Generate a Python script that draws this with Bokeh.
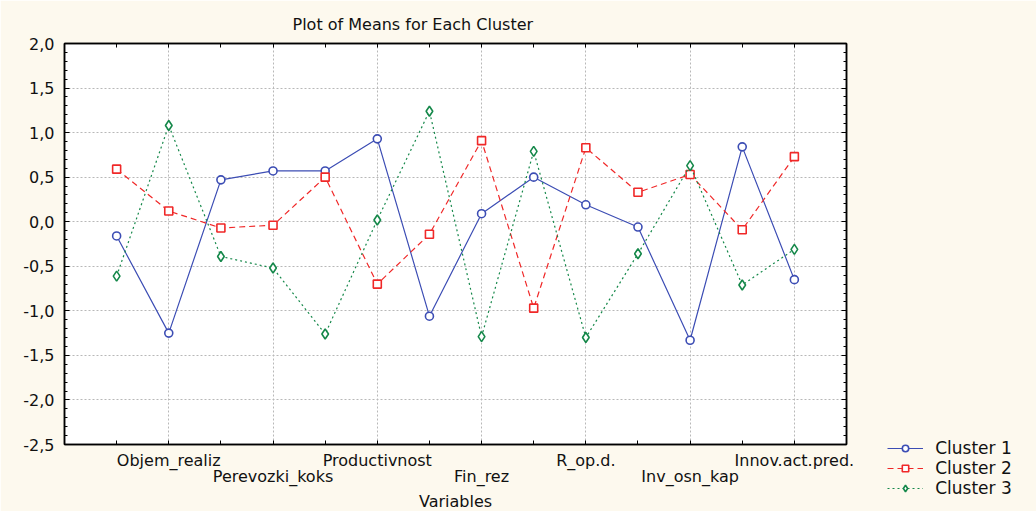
from bokeh.plotting import figure
from bokeh.models import (FixedTicker, LinearAxis, Range1d, Legend, LegendItem,
                          CustomJSTickFormatter)
from bokeh.embed import file_html
from bokeh.resources import INLINE

# ---- data ----
positions = list(range(1, 15))
cluster1 = [-0.16, -1.25, 0.47, 0.57, 0.57, 0.93, -1.06, 0.09, 0.50, 0.19, -0.06, -1.33, 0.84, -0.65]
cluster2 = [0.59, 0.12, -0.07, -0.04, 0.50, -0.70, -0.14, 0.91, -0.97, 0.83, 0.33, 0.53, -0.09, 0.73]
cluster3 = [-0.61, 1.08, -0.39, -0.52, -1.26, 0.02, 1.24, -1.29, 0.79, -1.30, -0.36, 0.63, -0.71, -0.31]
series_names = ["Cluster 1", "Cluster 2", "Cluster 3"]
label_positions = [2, 4, 6, 8, 10, 12, 14]
variable_labels = ["Objem_realiz", "Perevozki_koks", "Productivnost", "Fin_rez",
                   "R_op.d.", "Inv_osn_kap", "Innov.act.pred."]
y_ticks = [-2.5, -2.0, -1.5, -1.0, -0.5, 0.0, 0.5, 1.0, 1.5, 2.0]

FONT = "DejaVu Sans"
FS = "16px"
CREAM = "#fdf9ee"
TXT = "#111111"

p = figure(frame_width=782, height=513, output_backend="svg", toolbar_location=None,
           x_range=Range1d(0, 15), y_range=Range1d(-2.5, 2.0),
           min_border_left=64, min_border_right=190, min_border_top=43, min_border_bottom=20,
           background_fill_color="white", border_fill_color=CREAM,
           outline_line_color="black", outline_line_width=1.5)

p.title.text = "Plot of Means for Each Cluster"
p.title.align = "left"
p.title.offset = 228
p.title.text_font = FONT
p.title.text_font_size = FS
p.title.text_font_style = "normal"
p.title.text_color = TXT
p.title.standoff = 20

x_minor = [x for x in positions if x not in label_positions]
upper_pos = label_positions[0::2]
upper_lab = variable_labels[0::2]
lower_pos = label_positions[1::2]
lower_lab = variable_labels[1::2]

y_minor = [round(-2.5 + 0.1 * i, 1) for i in range(46)]
y_minor = [v for v in y_minor if v not in y_ticks]

# bottom axis (upper row of labels)
xa = p.xaxis[0]
xa.ticker = FixedTicker(ticks=upper_pos, minor_ticks=x_minor + lower_pos)
xa.major_label_overrides = dict(zip(upper_pos, upper_lab))

# second bottom axis (lower row of labels + axis title)
xb = LinearAxis(ticker=FixedTicker(ticks=lower_pos, minor_ticks=[]),
                major_label_overrides=dict(zip(lower_pos, lower_lab)))
xb.axis_line_alpha = 0
xb.major_tick_in = 0
xb.major_tick_out = 0
xb.minor_tick_in = 0
xb.minor_tick_out = 0
xb.major_label_standoff = -6
xb.axis_label = "Variables"
xb.axis_label_standoff = 3
p.add_layout(xb, "below")

# left axis
ya = p.yaxis[0]
ya.ticker = FixedTicker(ticks=y_ticks, minor_ticks=y_minor)
ya.formatter = CustomJSTickFormatter(code="return tick.toFixed(1).replace('.', ',');")

for ax in (xa, xb, ya):
    ax.major_label_text_font = FONT
    ax.major_label_text_font_size = FS
    ax.major_label_text_color = TXT
    ax.axis_label_text_font = FONT
    ax.axis_label_text_font_size = FS
    ax.axis_label_text_font_style = "normal"
    ax.axis_label_text_color = TXT
for ax in (xa, ya):
    ax.axis_line_color = "black"
    ax.axis_line_width = 1.5
    ax.major_tick_in = 5
    ax.major_tick_out = 0
    ax.minor_tick_in = 3
    ax.minor_tick_out = 0
    ax.major_tick_line_color = "black"
    ax.minor_tick_line_color = "black"
xa.minor_tick_in = 4
xa.major_tick_in = 4
xa.major_label_standoff = 6
ya.major_label_standoff = 10

# right and top axes (ticks only)
ra = LinearAxis(ticker=FixedTicker(ticks=y_ticks, minor_ticks=y_minor),
                formatter=CustomJSTickFormatter(code="return '';"))
ta = LinearAxis(ticker=FixedTicker(ticks=label_positions, minor_ticks=x_minor),
                formatter=CustomJSTickFormatter(code="return '';"))
for ax in (ra, ta):
    ax.axis_line_color = "black"
    ax.axis_line_width = 1.5
    ax.major_tick_in = 5
    ax.major_tick_out = 0
    ax.minor_tick_in = 3
    ax.minor_tick_out = 0
    ax.major_label_text_font_size = "0px"
    ax.major_label_standoff = 0
ta.major_tick_in = 4
ta.minor_tick_in = 4
p.add_layout(ra, "right")
p.add_layout(ta, "above")

# grid
p.xgrid.ticker = FixedTicker(ticks=label_positions)
p.ygrid.ticker = FixedTicker(ticks=y_ticks)
for g in (p.xgrid, p.ygrid):
    g.grid_line_color = "#b8b8b8"
    g.grid_line_dash = "2 2"
    g.grid_line_width = 1

# series
styles = [
    dict(color="#3c4db4", dash="solid", marker="circle", size=8),
    dict(color="#f02828", dash="6 4", marker="square", size=8),
    dict(color="#15884a", dash="2 3", marker="diamond", size=10),
]
items = []
for name, vals, st in zip(series_names, [cluster1, cluster2, cluster3], styles):
    lr = p.line(positions, vals, line_color=st["color"], line_width=1.2, line_dash=st["dash"])
    sr = p.scatter(positions, vals, marker=st["marker"], size=st["size"],
                   line_color=st["color"], line_width=1.6, fill_color="white")
    items.append(LegendItem(label=name, renderers=[lr, sr]))

legend = Legend(items=items, location=(-191, -54), padding=0, spacing=0, margin=0,
                glyph_width=36, glyph_height=16, label_height=16, label_standoff=12,
                label_text_font=FONT, label_text_font_size="17px", label_text_color=TXT,
                border_line_alpha=0, background_fill_alpha=0)
p.add_layout(legend, "right")

open("out.html", "w").write(file_html(p, INLINE))
